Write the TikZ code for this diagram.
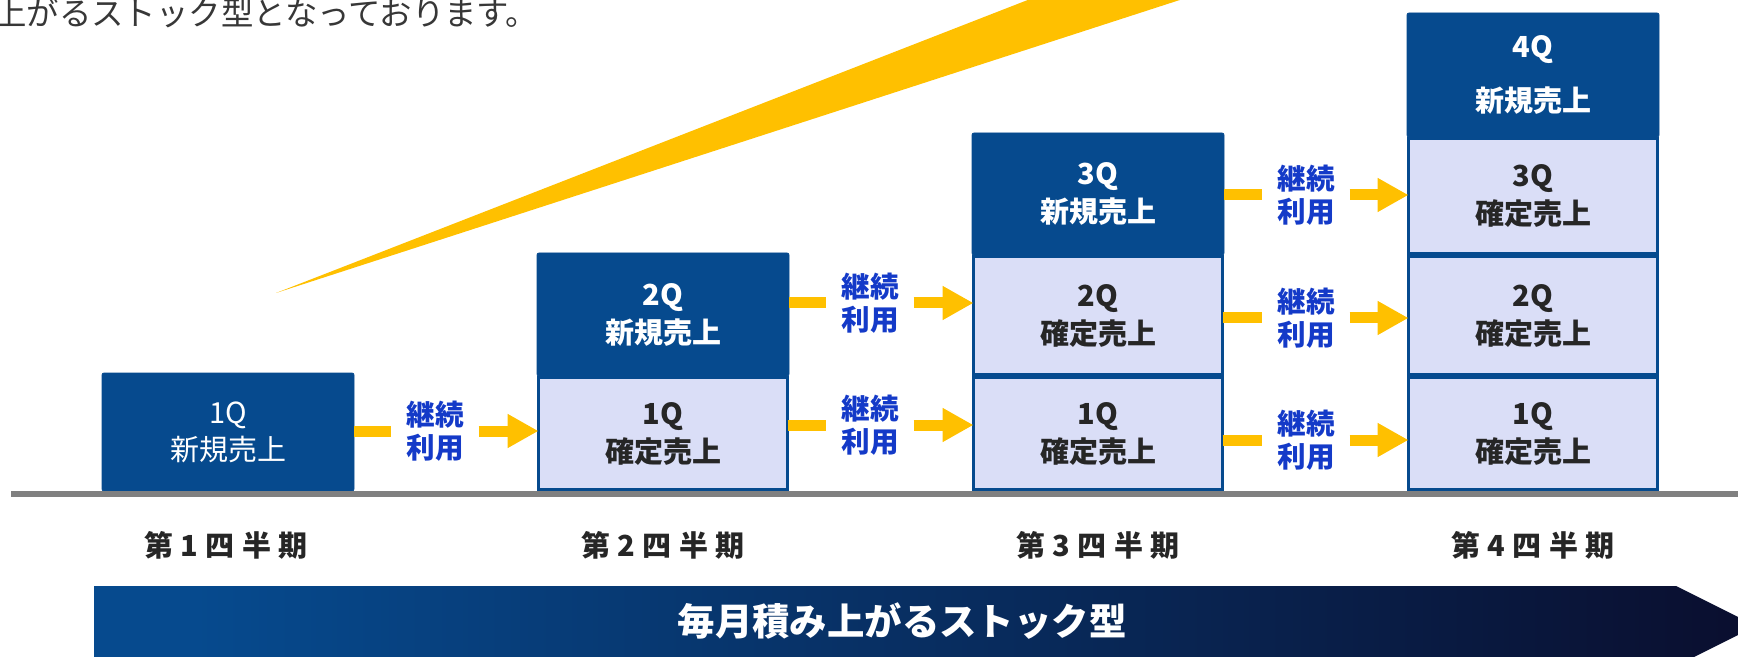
\documentclass[tikz,border=0pt]{standalone}
\usepackage{fontspec}
\setmainfont{Noto Sans CJK JP}
\usetikzlibrary{arrows.meta}
\definecolor{dblue}{RGB}{6,74,142}
\definecolor{lav}{RGB}{218,222,247}
\definecolor{gold}{RGB}{255,192,0}
\definecolor{lblue}{RGB}{20,58,200}
\definecolor{navy}{RGB}{10,14,46}
\definecolor{gline}{RGB}{128,128,128}
\definecolor{txtdark}{RGB}{38,38,38}
\definecolor{topgray}{RGB}{55,55,55}
\pgfdeclarehorizontalshading{stockgrad}{100bp}{color(0bp)=(dblue); color(28bp)=(dblue); color(75bp)=(navy); color(100bp)=(navy)}
\begin{document}
\begin{tikzpicture}[x=0.5pt,y=-0.5pt,
  darkbox/.style={fill=dblue, draw=dblue, rounded corners=1pt, text=white, align=center,
    inner sep=0pt, outer sep=0pt, minimum width=126pt, font=\bfseries\fontsize{14.5}{19}\selectfont},
  litebox/.style={fill=lav, draw=dblue, line width=1.6pt, text=txtdark, align=center,
    inner sep=0pt, outer sep=0pt, minimum width=124.5pt, font=\bfseries\fontsize{14.5}{19}\selectfont},
  lab/.style={text=lblue, align=center, font=\bfseries\fontsize{14.3}{16.5}\selectfont,
    inner xsep=7.5pt, inner ysep=0pt, outer sep=0pt},
  yseg/.style={draw=gold, line width=5.5pt},
  yarr/.style={yseg, -{Triangle[length=15.5pt,width=16pt]}},
  qlabel/.style={text=txtdark, inner sep=0pt, font=\bfseries\fontsize{14.5}{17}\selectfont\addfontfeature{LetterSpace=26}}
]
\useasboundingbox (0,0) rectangle (1738,657);
\clip (0,0) rectangle (1738,657);

% rising swoosh
\fill[gold] (276,293) -- (1156,-50) -- (1334,-50) -- cycle;

% intro text
\node[anchor=base west, inner sep=0pt, text=topgray, font=\fontsize{16.2}{19}\selectfont] (intro) at (-6,26) {上がるストック型となっております。};

% column 1
\node[darkbox, minimum height=59pt, font=\fontsize{14.5}{18.5}\selectfont] (q1n) at (228,432) {1Q\\新規売上};

% column 2
\node[darkbox, minimum height=61.5pt] (c2n) at (663,314.5) {2Q\\新規売上};
\node[litebox, minimum height=56pt] (c2a) at (663,433.5) {1Q\\確定売上};

% column 3
\node[darkbox, minimum height=61pt] (c3n) at (1098,194) {3Q\\新規売上};
\node[litebox, minimum height=59pt] (c3b) at (1098,315.5) {2Q\\確定売上};
\node[litebox, minimum height=56pt] (c3a) at (1098,433.5) {1Q\\確定売上};

% column 4
\node[darkbox, minimum height=62pt, font=\bfseries\fontsize{14.5}{27}\selectfont] (c4n) at (1533,75) {4Q\\新規売上};
\node[litebox, minimum height=57.5pt] (c4c) at (1533,196) {3Q\\確定売上};
\node[litebox, minimum height=59pt] (c4b) at (1533,315.5) {2Q\\確定売上};
\node[litebox, minimum height=56pt] (c4a) at (1533,433.5) {1Q\\確定売上};

% continuation labels
\node[lab] (l12) at (435,431) {継続\\利用};
\node[lab] (l23b) at (870,303) {継続\\利用};
\node[lab] (l23a) at (870,425) {継続\\利用};
\node[lab] (l34c) at (1306,195) {継続\\利用};
\node[lab] (l34b) at (1306,318) {継続\\利用};
\node[lab] (l34a) at (1306,440) {継続\\利用};

% connectors
\draw[yseg] (q1n.east |- l12.west) -- (l12.west);
\draw[yarr] (l12.east) -- (c2a.west |- l12.east);
\draw[yseg] (c2n.east |- l23b.west) -- (l23b.west);
\draw[yarr] (l23b.east) -- (c3b.west |- l23b.east);
\draw[yseg] (c2a.east |- l23a.west) -- (l23a.west);
\draw[yarr] (l23a.east) -- (c3a.west |- l23a.east);
\draw[yseg] (c3n.east |- l34c.west) -- (l34c.west);
\draw[yarr] (l34c.east) -- (c4c.west |- l34c.east);
\draw[yseg] (c3b.east |- l34b.west) -- (l34b.west);
\draw[yarr] (l34b.east) -- (c4b.west |- l34b.east);
\draw[yseg] (c3a.east |- l34a.west) -- (l34a.west);
\draw[yarr] (l34a.east) -- (c4a.west |- l34a.east);

% ground line
\coordinate (g0) at (11,494);
\coordinate (g1) at (1738,494);
\draw[gline, line width=3pt] (g0) -- (g1);

% quarter labels
\node[qlabel] (p1) at (226,545) {第1四半期};
\node[qlabel] (p2) at (663,545) {第2四半期};
\node[qlabel] (p3) at (1098,545) {第3四半期};
\node[qlabel] (p4) at (1533,545) {第4四半期};

% bottom arrow
\path[shading=stockgrad] (94,586) -- (1676,586) -- (1756,626) -- (1676,666) -- (94,666) -- cycle;
\node[text=white, inner sep=0pt, font=\bfseries\fontsize{18.7}{22}\selectfont] (stock) at (902,621) {毎月積み上がるストック型};
\end{tikzpicture}
\end{document}
